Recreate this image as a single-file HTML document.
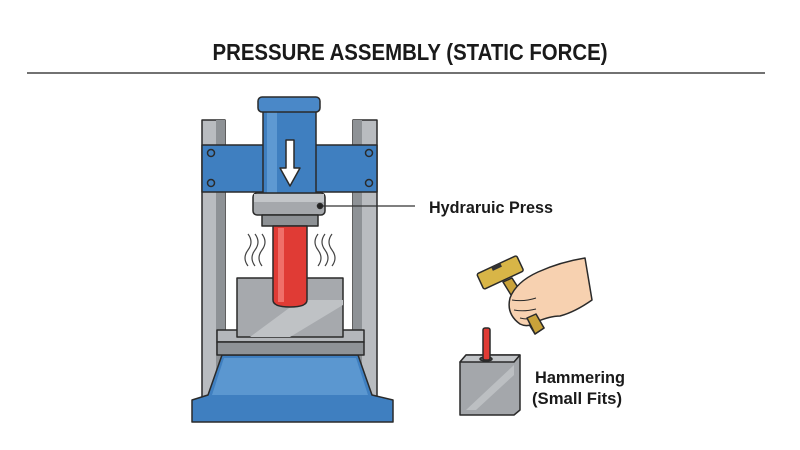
<!DOCTYPE html>
<html><head><meta charset="utf-8"><style>
html,body{margin:0;padding:0;background:#fff}
body{width:800px;height:450px;overflow:hidden;position:relative}
svg{position:absolute;left:0;top:0}
text{font-family:"Liberation Sans",sans-serif;font-weight:bold;fill:#1a1a1a}
</style></head><body>
<svg width="800" height="450" viewBox="0 0 800 450">
<text x="410" y="60" text-anchor="middle" font-size="23" textLength="395" lengthAdjust="spacingAndGlyphs">PRESSURE ASSEMBLY (STATIC FORCE)</text>
<line x1="27" y1="73" x2="765" y2="73" stroke="#444" stroke-width="1.5"/>
<g stroke="#2a2a2a" stroke-width="1.5" stroke-linejoin="round">
<rect x="202" y="120" width="23" height="278" fill="#b9bcc0"/>
<rect x="216" y="120" width="9" height="278" fill="#8e9296" stroke="none"/>
<rect x="353" y="120" width="24" height="278" fill="#b9bcc0"/>
<rect x="353" y="120" width="9" height="278" fill="#8e9296" stroke="none"/>
<polygon points="222,355 358,355 372,395 393,400 393,422 192,422 192,400 208,395" fill="#3f7fc0"/>
<polygon points="224,358 356,358 368,395 212,395" fill="#5b97d0" stroke="none"/>
<rect x="217" y="330" width="147" height="12" fill="#b4b7bb"/>
<rect x="217" y="342" width="147" height="13" fill="#8f9397"/>
<rect x="237" y="278" width="106" height="59" fill="#a6a9ad"/>
<polygon points="250,337 300,300 343,300 343,305 290,337" fill="#bfc2c5" stroke="none"/>
<rect x="202" y="145" width="175" height="47" fill="#3f7fc0"/>
<circle cx="211" cy="153" r="3.5" fill="none"/><circle cx="211" cy="183" r="3.5" fill="none"/>
<circle cx="369" cy="153" r="3.5" fill="none"/><circle cx="369" cy="183" r="3.5" fill="none"/>
<rect x="263" y="110" width="53" height="88" fill="#3f7fc0"/>
<rect x="267" y="112" width="10" height="84" fill="#5e99d2" stroke="none"/>
<rect x="258" y="97" width="62" height="15" rx="4" fill="#4a88c8"/>
<polygon points="286,140 294,140 294,168 300,168 290,186 280,168 286,168" fill="#fff"/>
<rect x="253" y="193" width="72" height="22" rx="4" fill="#a5a8ac"/>
<rect x="254" y="194" width="70" height="8" fill="#c3c6c9" stroke="none"/>
<rect x="262" y="215" width="56" height="11" fill="#8d9195"/>
<circle cx="320" cy="206" r="2.5" fill="#222"/>
<path d="M273,226 L307,226 L307,300 Q307,307 290,307 Q273,307 273,300 Z" fill="#e03b35"/>
<rect x="278" y="228" width="6" height="74" fill="#f06f69" stroke="none"/>
</g>
<g fill="none" stroke="#444" stroke-width="1.2">
<path d="M248,234 q6,8 0,16 q-6,8 0,16"/><path d="M255,234 q6,8 0,16 q-6,8 0,16"/><path d="M262,234 q6,8 0,16 q-6,8 0,16"/>
<path d="M318,234 q-6,8 0,16 q6,8 0,16"/><path d="M325,234 q-6,8 0,16 q6,8 0,16"/><path d="M332,234 q-6,8 0,16 q6,8 0,16"/>
</g>
<line x1="323" y1="206" x2="415" y2="206" stroke="#333" stroke-width="1.3"/>
<text x="429" y="213" font-size="17" textLength="124" lengthAdjust="spacingAndGlyphs">Hydraruic Press</text>
<g stroke="#2a2a2a" stroke-width="1.5" stroke-linejoin="round">
<polygon points="460,362 466,355 520,355 520,410 514,415 460,415" fill="#a4a7ab"/>
<polygon points="460,362 466,355 520,355 514,362" fill="#c2c5c8"/>
<polygon points="466,410 514,365 514,375 476,410" fill="#bcbfc2" stroke="none"/>
<ellipse cx="486" cy="359" rx="6" ry="2" fill="#555"/>
<rect x="483" y="328" width="7" height="32" rx="2" fill="#e03b35"/>
<polygon points="503,282 512,278 544,328 535,334" fill="#c9a23a"/>
<path d="M585,258 Q560,262 538,272 Q516,282 510,298 Q506,314 520,324 Q528,328 536,322 Q550,316 560,316 Q575,312 592,300 Z" fill="#f7d1b0"/>
<path d="M512,300 q12,2 24,-2 M514,310 q10,2 22,-1 M520,318 q8,2 14,0" fill="none" stroke-width="1"/>
<polygon points="527,318 536,314 544,328 535,334" fill="#c9a23a"/>
<g transform="rotate(-25 500 272)">
<rect x="478" y="264" width="44" height="17" rx="2" fill="#d8b547"/>
<rect x="494" y="264" width="10" height="4" fill="#333" stroke="none"/>
</g>
</g>
<text x="535" y="383" font-size="17" textLength="90" lengthAdjust="spacingAndGlyphs">Hammering</text>
<text x="532" y="404" font-size="17" textLength="90" lengthAdjust="spacingAndGlyphs">(Small Fits)</text>
</svg>
</body></html>
